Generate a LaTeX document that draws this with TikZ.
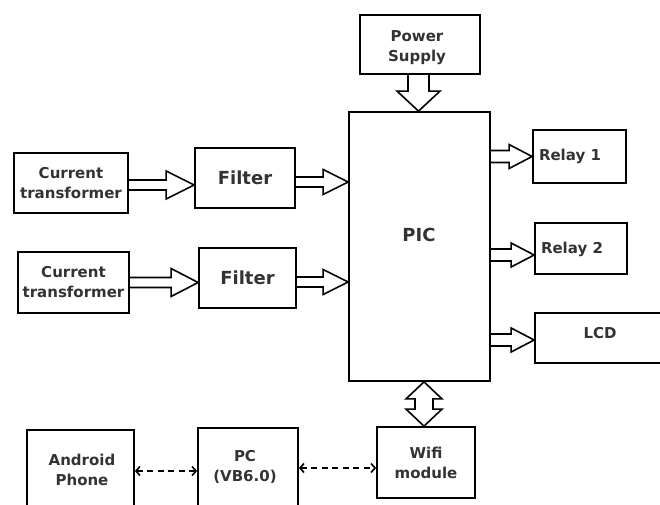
\documentclass[tikz,border=0pt]{standalone}
\usepackage{fontspec}
\setmainfont{DejaVu Sans}
\usetikzlibrary{calc,arrows.meta}
\tikzset{
  box/.style={draw, line width=1.8pt, rectangle, inner sep=0pt, align=center,
    font=\fontsize{15}{20}\selectfont\bfseries, text=black!80},
  bigtxt/.style={font=\fontsize{18}{22}\selectfont\bfseries, text=black!80},
  smalltxt/.style={font=\fontsize{15}{20}\selectfont\bfseries, text=black!80},
  barrow/.style={draw, line width=1.6pt, line join=miter},
  darr/.style={line width=1.6pt, dash pattern=on 6pt off 4.5pt,
    {Straight Barb[length=4pt,width=9pt]}-{Straight Barb[length=4pt,width=9pt]}}
}
% horizontal block arrow: from #1 to x of #2, shaft half #3, head half #4, head length #5
\newcommand\hblock[5]{%
  \draw[barrow] let \p1=(#1), \p2=(#2) in
    (\x1,\y1+#3) -- (\x2-#5,\y1+#3) -- (\x2-#5,\y1+#4) -- (\x2,\y1)
    -- (\x2-#5,\y1-#4) -- (\x2-#5,\y1-#3) -- (\x1,\y1-#3);}
\begin{document}
\begin{tikzpicture}[x=1pt,y=-1pt]
\useasboundingbox (0,0) rectangle (660,504);
\clip (0,0) rectangle (660,504);
\fill[white] (0,0) rectangle (660,504);

% boxes
\node[box, minimum width=120pt, minimum height=59pt, label={[smalltxt, align=center, xshift=-3pt, yshift=-3pt, name=pst]center:Power\\Supply}] (ps) at (420,44.5) {};
\node[box, minimum width=141pt, minimum height=269pt] (pic) at (419.5,246.5) {};
\node[bigtxt] (pictext) at (419,235) {PIC};
\node[box, minimum width=93pt, minimum height=53pt, label={[smalltxt, xshift=-9.5pt, name=r1t]center:Relay 1}] (r1) at (579.5,156.5) {};
\node[box, minimum width=92pt, minimum height=51pt, label={[smalltxt, xshift=-9pt, yshift=-0.5pt, name=r2t]center:Relay 2}] (r2) at (581,248.5) {};
\node[box, minimum width=135pt, minimum height=50pt, label={[smalltxt, xshift=-2.5pt, yshift=5pt, name=lcdt]center:LCD}] (lcd) at (602.5,338) {};
\node[box, minimum width=114pt, minimum height=60pt] (ct1) at (71,183) {Current\\transformer};
\node[box, minimum width=100pt, minimum height=60pt, font=\fontsize{18}{22}\selectfont\bfseries] (f1) at (245,178) {Filter};
\node[box, minimum width=111pt, minimum height=61pt] (ct2) at (73.5,282.5) {Current\\transformer};
\node[box, minimum width=97pt, minimum height=60pt, font=\fontsize{18}{22}\selectfont\bfseries] (f2) at (247.5,278) {Filter};
\node[box, minimum width=107pt, minimum height=85pt, label={[smalltxt, align=center, xshift=1.5pt, yshift=2.5pt, name=andt]center:Android\\Phone}] (and) at (80.5,472.5) {};
\node[box, minimum width=100pt, minimum height=87pt, label={[smalltxt, align=center, xshift=-3pt, yshift=4.5pt, name=pct]center:PC\\(VB6.0)}] (pc) at (248,471.5) {};
\node[box, minimum width=98pt, minimum height=71pt] (wifi) at (426,462.5) {Wifi\\module};

% block arrows
\hblock{[yshift=-2pt]ct1.east}{f1.west}{5pt}{14pt}{28pt}
\hblock{[yshift=-4pt]f1.east}{pic.west}{5pt}{12.5pt}{25pt}
\hblock{ct2.east}{f2.west}{5pt}{14pt}{27pt}
\hblock{[yshift=-4pt]f2.east}{pic.west}{5pt}{12.5pt}{25pt}
\hblock{pic.east |- r1.west}{r1.west}{6pt}{12pt}{23pt}
\hblock{[yshift=-6.5pt]pic.east |- r2.west}{r2.west}{6pt}{12pt}{23pt}
\hblock{[yshift=-2pt]pic.east |- lcd.west}{lcd.west}{6pt}{12pt}{23pt}

% power supply -> PIC (downward)
\draw[barrow] let \p1=([xshift=-1.5pt]ps.south), \p2=(pic.north) in
  (\x1+10.5pt,\y1) -- (\x1+10.5pt,\y2+20pt) -- (\x1+21.5pt,\y2+20pt) -- (\x1,\y2)
  -- (\x1-21.5pt,\y2+20pt) -- (\x1-10.5pt,\y2+20pt) -- (\x1-10.5pt,\y1);

% PIC <-> Wifi (double)
\draw[barrow] let \p1=([xshift=-2pt]wifi.north), \p2=(pic.south) in
  (\x1,\y2) -- (\x1+18pt,\y2-17pt) -- (\x1+9pt,\y2-17pt) -- (\x1+9pt,\y1+17pt)
  -- (\x1+18pt,\y1+17pt) -- (\x1,\y1) -- (\x1-18pt,\y1+17pt) -- (\x1-9pt,\y1+17pt)
  -- (\x1-9pt,\y2-17pt) -- (\x1-18pt,\y2-17pt) -- cycle;

% dashed links
\draw[darr] ([yshift=1.5pt]and.east) -- ([yshift=1.5pt]and.east -| pc.west);
\draw[darr] ([yshift=3.5pt]pc.east) -- ([yshift=3.5pt]pc.east -| wifi.west);
\end{tikzpicture}
\end{document}
